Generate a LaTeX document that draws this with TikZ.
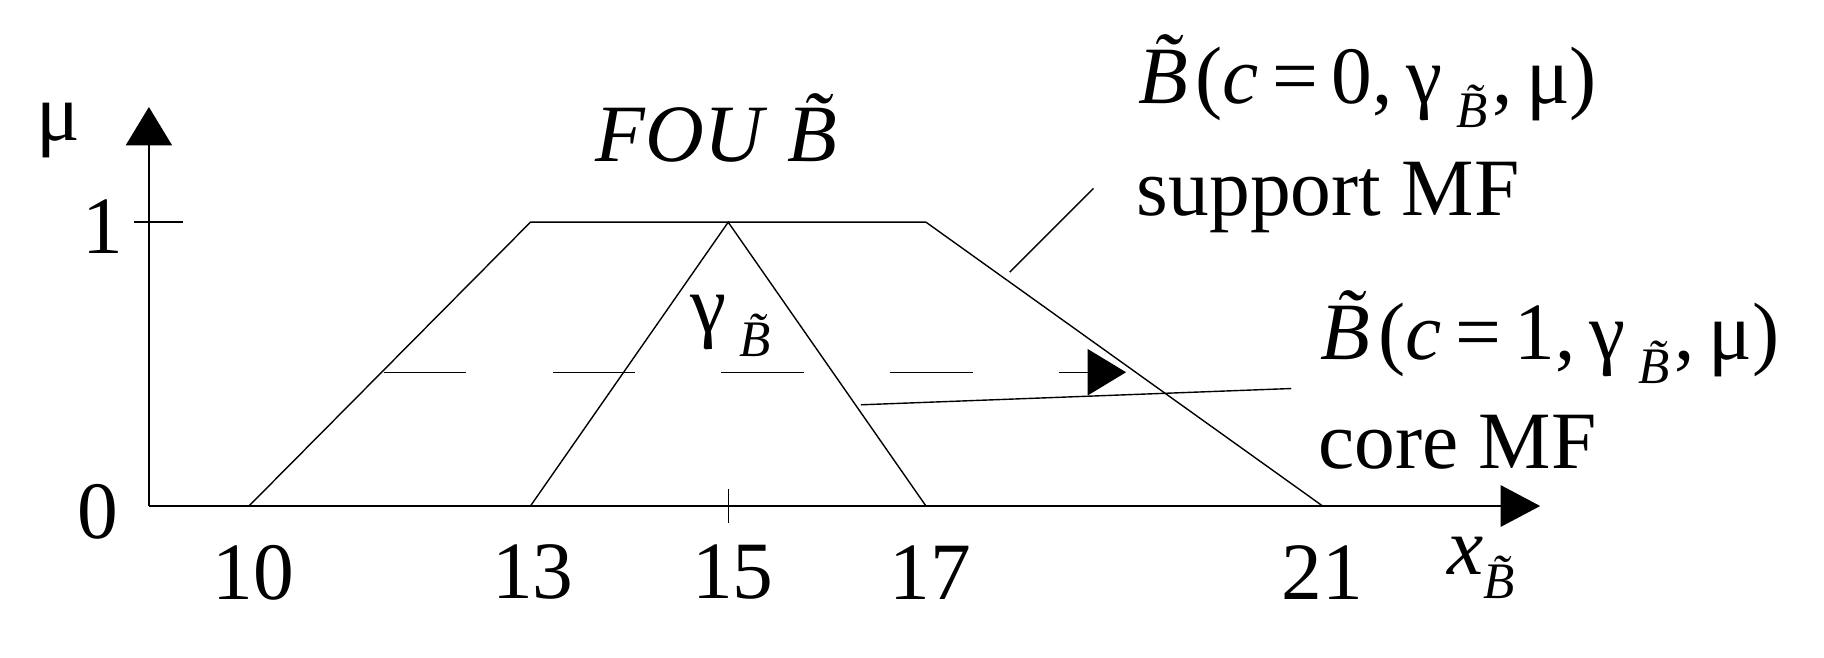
\documentclass[tikz,border=0pt]{standalone}
\usepackage{fontspec}
\setmainfont{Liberation Serif}
\newcommand{\Bt}{\textit{B\char"0303}}
\newcommand{\Bk}{\Bt\kern-0.3em}
\newcommand{\subB}{\raisebox{-0.3em}{\fontsize{22}{24}\selectfont\Bt\kern-0.3em}}
\begin{document}
\begin{tikzpicture}[x=0.5pt,y=-0.5pt,
  ln/.style={line width=0.6pt},
  txt/.style={inner sep=0pt,font=\fontsize{35}{40}\selectfont}]
\useasboundingbox (0,0) rectangle (1568,565);
% axes
\coordinate (o) at (128,435);
\coordinate (xe) at (1290,435);
\coordinate (ye) at (128,125);
\draw[ln] (o) -- (xe);
\draw[ln] (o) -- (ye);
\fill (1290,417) -- (1324,435) -- (1290,453) -- cycle;
\fill (108,125) -- (128,92) -- (148,125) -- cycle;
\draw[ln] (115,191) -- (157,191);
\draw[ln] (626,420) -- (626,450);
% shapes
\coordinate (a) at (214,435); \coordinate (b) at (456,191);
\coordinate (c) at (796,191); \coordinate (d) at (1137,435);
\coordinate (e) at (456,435); \coordinate (f) at (626,191); \coordinate (g) at (796,435);
\draw[ln] (a) -- (b) -- (c) -- (d);
\draw[ln] (e) -- (f) -- (g);
% dashed arrow
\coordinate (ds) at (330,320); \coordinate (de) at (935,320);
\draw[ln,dash pattern=on 35.5pt off 37pt] (ds) -- (de);
\fill (935,300) -- (968,320) -- (935,340) -- cycle;
% leaders
\coordinate (l1a) at (868,234); \coordinate (l1b) at (940,162);
\coordinate (l2a) at (740,348); \coordinate (l2b) at (1110,334);
\draw[ln] (l1a) -- (l1b);
\draw[ln] (l2a) -- (l2b);
% labels
\node[txt] (mu) at (50,112) {μ};
\node[txt] (one) at (88,195) {1};
\node[txt] (zero) at (84,440) {0};
\node[txt] (t10) at (218,492) {10};
\node[txt] (t13) at (458,492) {13};
\node[txt] (t15) at (630,492) {15};
\node[txt] (t17) at (800,492) {17};
\node[txt] (t21) at (1137,492) {21};
\node[txt] (xb) at (1275,488) {\textit{x}\subB};
\node[txt] (fou) at (630,110) {\textit{FOU} \Bt};
\node[txt] (gam) at (630,280) {γ\,\subB};
\node[txt,anchor=west] (lab0) at (978,70) {\Bk(\textit{c}\,=\,0,\,γ\,\subB,\,μ)};
\node[txt,anchor=west] (sup) at (977,170) {support MF};
\node[txt,anchor=west] (lab1) at (1135,290) {\Bk(\textit{c}\,=\,1,\,γ\,\subB,\,μ)};
\node[txt,anchor=west] (core) at (1133,380) {core MF};
\end{tikzpicture}
\end{document}
